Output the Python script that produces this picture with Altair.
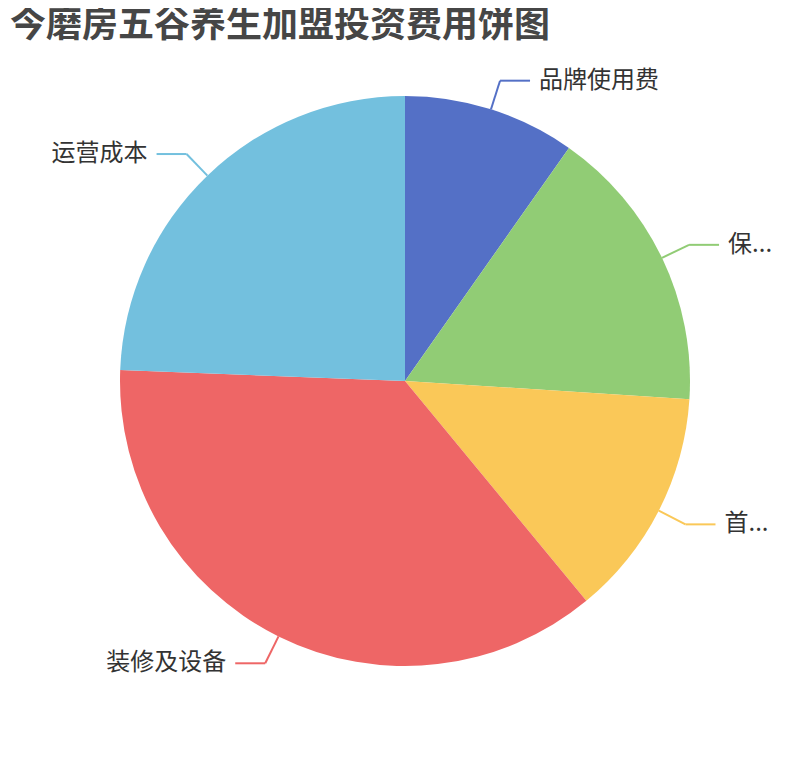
import altair as alt
import pandas as pd

categories = ["品牌使用费", "保证金", "首批进货费", "装修及设备", "运营成本"]
labels = ["品牌使用费", "保...", "首...", "装修及设备", "运营成本"]
values = [6, 10, 8, 22.5, 15]
colors = ["#5470c6", "#91cc75", "#fac858", "#ee6666", "#73c0de"]

df = pd.DataFrame({"category": categories, "label": labels, "value": values,
                   "idx": list(range(len(categories)))})

W, H = 794, 660
R = 285
R2 = 315
HL = 30
GAP = 9
CX, CY = W / 2, H / 2

color_scale = alt.Scale(domain=categories, range=colors)

base = alt.Chart(df)

pie = base.mark_arc(outerRadius=R, stroke=None).encode(
    theta=alt.Theta("value:Q", stack=True),
    color=alt.Color("category:N", scale=color_scale, legend=None),
    order=alt.Order("idx:Q"),
)

geo = base.transform_joinaggregate(total="sum(value)").transform_window(
    cum="sum(value)", sort=[alt.SortField("idx")], frame=[None, 0]
).transform_calculate(
    a=f"(datum.cum - datum.value/2) / datum.total * 2 * PI",
).transform_calculate(
    side="sin(datum.a) >= 0 ? 1 : -1",
    x1=f"{CX} + {R} * sin(datum.a)",
    y1=f"{CY} - {R} * cos(datum.a)",
    x2=f"{CX} + {R2} * sin(datum.a)",
    y2=f"{CY} - {R2} * cos(datum.a)",
).transform_calculate(
    x3=f"datum.x2 + datum.side * {HL}",
    xt=f"datum.x2 + datum.side * {HL + GAP}",
)

xs = alt.Scale(domain=[0, W], range=[0, W])
ys = alt.Scale(domain=[0, H], range=[0, H])

seg1 = geo.mark_rule(strokeWidth=2).encode(
    x=alt.X("x1:Q", scale=xs, axis=None), y=alt.Y("y1:Q", scale=ys, axis=None),
    x2="x2:Q", y2="y2:Q",
    color=alt.Color("category:N", scale=color_scale, legend=None),
)
seg2 = geo.mark_rule(strokeWidth=2).encode(
    x=alt.X("x2:Q", scale=xs, axis=None), y=alt.Y("y2:Q", scale=ys, axis=None),
    x2="x3:Q",
    color=alt.Color("category:N", scale=color_scale, legend=None),
)

txt_kw = dict(fontSize=24, font="Noto Sans CJK SC", color="#333333", baseline="middle")
txt_r = geo.transform_filter("datum.side > 0").mark_text(align="left", **txt_kw).encode(
    x=alt.X("xt:Q", scale=xs, axis=None), y=alt.Y("y2:Q", scale=ys, axis=None),
    text="label:N",
)
txt_l = geo.transform_filter("datum.side < 0").mark_text(align="right", **txt_kw).encode(
    x=alt.X("xt:Q", scale=xs, axis=None), y=alt.Y("y2:Q", scale=ys, axis=None),
    text="label:N",
)

chart = alt.layer(pie, seg1, seg2, txt_r, txt_l).properties(
    width=W, height=H,
    padding={"left": 0, "top": 0, "right": 0, "bottom": 0},
    title=alt.TitleParams(
        "今磨房五谷养生加盟投资费用饼图", anchor="start", fontSize=36,
        font="Noto Sans CJK SC", fontWeight="bold", color="#464646", dx=2, offset=6,
    ),
).configure_view(stroke=None)

chart.save("out.html", embed_options={"renderer": "svg", "actions": False})
